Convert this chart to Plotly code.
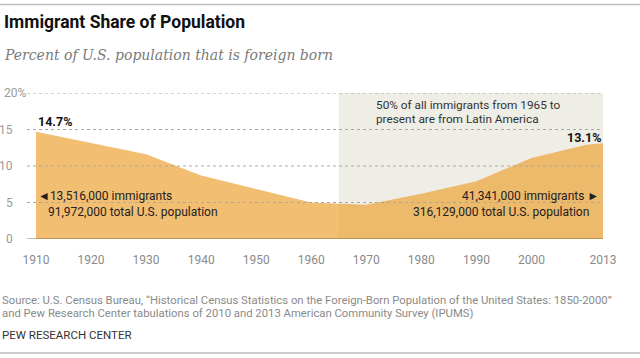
import plotly.graph_objects as go

# ---- data ----
years = [1910, 1920, 1930, 1940, 1950, 1960, 1970, 1980, 1990, 2000, 2010, 2013]
share = [14.7, 13.2, 11.6, 8.7, 6.9, 5.0, 4.7, 6.2, 7.9, 11.1, 12.9, 13.1]
x_tick_vals = [1910, 1920, 1930, 1940, 1950, 1960, 1970, 1980, 1990, 2000, 2013]
x_tick_text = ["1910", "1920", "1930", "1940", "1950", "1960", "1970", "1980", "1990", "2000", "2013"]
y_tick_vals = [0, 5, 10, 15, 20]
y_tick_text = ["0", "5", "10", "15", "20%"]
shade_start, shade_end = 1965, 2013

W, H = 640, 358
ML, MR, MT, MB = 27, 37, 93, 119
PW, PH = W - ML - MR, H - MT - MB

def py(p):  # pixel y -> paper y
    return (H - MB - p) / PH

def px(p):  # pixel x -> paper x
    return (p - ML) / PW

FONT = "Roboto, 'Liberation Sans', sans-serif"
SERIF = "'DejaVu Serif', 'Liberation Serif', serif"

fig = go.Figure()
fig.add_trace(go.Scatter(
    x=years, y=share, mode="lines", fill="tozeroy",
    line=dict(width=0, color="rgba(236,162,53,0.7)"),
    fillcolor="rgba(236,162,53,0.7)", hoverinfo="skip", showlegend=False))

shapes = []
shapes.append(dict(type="rect", xref="x", yref="y", x0=shade_start, x1=shade_end,
                   y0=0, y1=20, fillcolor="#EEEDE6", line=dict(width=0), layer="below"))
for v in y_tick_vals[1:]:
    shapes.append(dict(type="line", xref="paper", yref="y", x0=0, x1=1, y0=v, y1=v,
                       line=dict(color="#A8A8A8", width=1, dash="dot"), layer="above"))
shapes.append(dict(type="line", xref="paper", yref="y", x0=0, x1=1, y0=0, y1=0,
                   line=dict(color="rgba(120,95,70,0.55)", width=1.3), layer="above"))
# top and bottom rules
for yy in (4.5, 353):
    shapes.append(dict(type="line", xref="paper", yref="paper", x0=px(0), x1=px(640),
                       y0=py(yy), y1=py(yy), layer="above",
                       line=dict(color="#BDBDBD", width=1.3)))

ann = []
# y tick labels
for v, t in zip(y_tick_vals, y_tick_text):
    if t.endswith("%"):
        ann.append(dict(xref="paper", yref="y", x=0, y=v, xshift=-25, xanchor="left",
                        text=t, showarrow=False, font=dict(family=FONT, size=12, color="#9A9A9A")))
    else:
        ann.append(dict(xref="paper", yref="y", x=0, y=v, xshift=-12, xanchor="right",
                        text=t, showarrow=False, font=dict(family=FONT, size=12, color="#9A9A9A")))

AF = dict(family=FONT, size=12, color="#222")
ann += [
    dict(xref="paper", yref="paper", x=px(2), y=py(22), xanchor="left", yanchor="middle",
         text="<b>Immigrant Share of Population</b>", showarrow=False,
         font=dict(family=FONT, size=17.5, color="#111")),
    dict(xref="paper", yref="paper", x=px(2), y=py(55), xanchor="left", yanchor="middle",
         text="<i>Percent of U.S. population that is foreign born</i>", showarrow=False,
         font=dict(family=SERIF, size=14, color="#7A7A7A")),
    dict(xref="x", yref="y", x=years[0], y=share[0], yshift=10, xanchor="left", yanchor="middle",
         text="<b>%.1f%%</b>" % share[0], showarrow=False,
         font=dict(family=FONT, size=12.5, color="#111")),
    dict(xref="x", yref="y", x=years[-1], y=share[-1], yshift=6, xanchor="right", yanchor="middle",
         text="<b>%.1f%%</b>" % share[-1], showarrow=False,
         font=dict(family=FONT, size=12.5, color="#111")),
    dict(xref="x", yref="paper", x=years[0], y=py(196), xanchor="left", yanchor="middle",
         text="◄13,516,000 immigrants", showarrow=False, font=AF),
    dict(xref="x", yref="paper", x=years[0], y=py(211.5), xshift=10, xanchor="left", yanchor="middle",
         text="91,972,000 total U.S. population", showarrow=False, font=AF),
    dict(xref="x", yref="paper", x=years[-1], y=py(196), xshift=-2, xanchor="right", yanchor="middle",
         text="41,341,000 immigrants ►", showarrow=False, font=AF),
    dict(xref="x", yref="paper", x=years[-1], y=py(211.5), xshift=-12, xanchor="right", yanchor="middle",
         text="316,129,000 total U.S. population", showarrow=False, font=AF),
    dict(xref="paper", yref="paper", x=px(374), y=py(105), xanchor="left", yanchor="middle",
         text="50% of all immigrants from 1965 to", showarrow=False,
         font=dict(family=FONT, size=11.8, color="#333")),
    dict(xref="paper", yref="paper", x=px(374), y=py(118.5), xanchor="left", yanchor="middle",
         text="present are from Latin America", showarrow=False,
         font=dict(family=FONT, size=11.8, color="#333")),
    dict(xref="paper", yref="paper", x=px(0), y=py(300), xanchor="left", yanchor="middle",
         text="Source: U.S. Census Bureau, “Historical Census Statistics on the Foreign-Born Population of the United States: 1850-2000”",
         showarrow=False, font=dict(family=FONT, size=11.3, color="#8A8A8A")),
    dict(xref="paper", yref="paper", x=px(0), y=py(313.5), xanchor="left", yanchor="middle",
         text="and Pew Research Center tabulations of 2010 and 2013 American Community Survey (IPUMS)",
         showarrow=False, font=dict(family=FONT, size=11.3, color="#8A8A8A")),
    dict(xref="paper", yref="paper", x=px(0), y=py(335), xanchor="left", yanchor="middle",
         text="PEW RESEARCH CENTER", showarrow=False,
         font=dict(family=FONT, size=11.5, color="#333")),
]

fig.update_layout(
    width=W, height=H, margin=dict(l=ML, r=MR, t=MT, b=MB),
    paper_bgcolor="white", plot_bgcolor="white",
    shapes=shapes, annotations=ann, showlegend=False,
    xaxis=dict(range=[1910 - 9 / 5.5, 2013], tickvals=x_tick_vals, ticktext=x_tick_text,
               showgrid=False, zeroline=False, showline=False, ticks="",
               tickfont=dict(family=FONT, size=12, color="#8A8A8A"), ticklabelstandoff=12),
    yaxis=dict(range=[0, 20], tickvals=y_tick_vals, showticklabels=False,
               showgrid=False, zeroline=False, showline=False, ticks=""),
)
fig.write_html("out.html", config={"displayModeBar": False},
               post_script="document.body.style.margin='0';document.body.style.overflow='hidden';")
